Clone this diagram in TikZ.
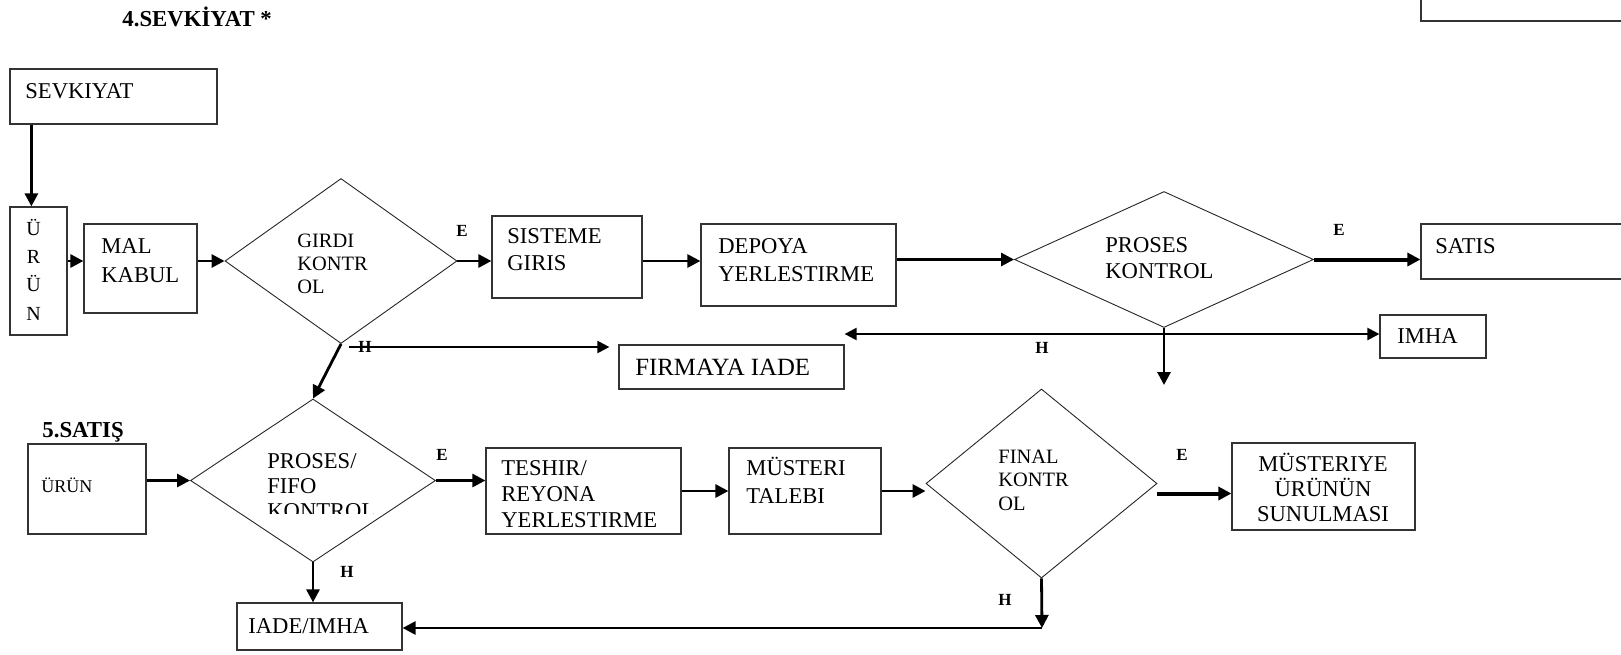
\documentclass[tikz,border=0pt]{standalone}
\usepackage{fontspec}
\setmainfont{Liberation Serif}
\usetikzlibrary{shapes.geometric,arrows.meta}

\newcommand\boxfont{\fontsize{11.3}{13.5}\selectfont}
\newcommand\dmdfont{\fontsize{10.2}{11.6}\selectfont}
\newcommand\lblfont{\fontsize{8.5}{10}\selectfont\bfseries}
\newcommand\headfont{\fontsize{11.4}{13}\selectfont\bfseries}
\newcommand\stackl[1]{\begin{tabular}[t]{@{}l@{}}#1\end{tabular}}
\newcommand\stackc[1]{\begin{tabular}[t]{@{}c@{}}#1\end{tabular}}

\begin{document}
\begin{tikzpicture}[x=0.5pt,y=-0.5pt,
  box/.style={draw=black!80, line width=0.6pt, rectangle, inner sep=0pt},
  dmd/.style={draw=black!85, line width=0.45pt, diamond, inner sep=0pt},
  txt/.style={inner sep=0pt, anchor=base west, font=\boxfont},
  dtxt/.style={inner sep=0pt, anchor=base west, font=\dmdfont},
  lbl/.style={inner sep=0pt, anchor=base, font=\lblfont},
  head/.style={inner sep=0pt, anchor=base west, font=\headfont},
  arr/.style={line width=1.4pt, -{Triangle[length=6.5pt,width=6.5pt]}},
  arrthick/.style={line width=2pt, -{Triangle[length=6.5pt,width=6.5pt]}},
  arrthin/.style={line width=1pt, -{Triangle[length=6pt,width=6pt]}},
  arrboth/.style={line width=1.1pt, {Triangle[length=6pt,width=6pt]}-{Triangle[length=6pt,width=6pt]}}
]
\useasboundingbox (0,0) rectangle (1621,654);
\clip (0,0) rectangle (1621,654);

% ---------- section headings ----------
\node[head] (h4) at (122,26) {4.SEVKİYAT *};
\node[head] (h5) at (42,437) {5.SATIŞ};

% ---------- upper flow: shipment ----------
\node[box, minimum width=103.5pt, minimum height=27.5pt] (sev) at (113.5,96.5) {};
\node[txt] (sevt) at (25,98) {SEVKIYAT};

\node[box, minimum width=28.5pt, minimum height=64pt] (urun) at (38.5,271) {};
\node[inner sep=0pt, anchor=base, font=\fontsize{10}{14.2}\selectfont] (urunt) at (33.5,235) {\stackc{Ü\\R\\Ü\\N}};

\node[box, minimum width=56.5pt, minimum height=44.5pt] (mal) at (140.5,268.5) {};
\node[txt, font=\fontsize{11.3}{14.5}\selectfont] (malt) at (101,253) {\stackl{MAL\\KABUL}};

\node[dmd, minimum width=116pt, minimum height=82.5pt] (gk) at (341,261) {};
\node[dtxt] (gkt) at (297,247) {\stackl{GIRDI\\KONTR\\OL}};

\node[box, minimum width=75pt, minimum height=41pt] (sis) at (567,257) {};
\node[txt] (sist) at (507,243) {\stackl{SISTEME\\GIRIS}};

\node[box, minimum width=97.5pt, minimum height=41pt] (dep) at (798.5,265) {};
\node[txt, font=\fontsize{11.3}{14}\selectfont] (dept) at (718,253) {\stackl{DEPOYA\\YERLESTIRME}};

\node[dmd, minimum width=149.5pt, minimum height=68pt] (pk) at (1164,259.5) {};
\node[txt, font=\fontsize{11.3}{13}\selectfont] (pkt) at (1105,252) {\stackl{PROSES\\KONTROL}};

\node[box, minimum width=120pt, minimum height=27.5pt] (satis) at (1541,251.5) {};
\node[txt] (satist) at (1435,253) {SATIS};

\node[box, minimum width=120pt, minimum height=25pt] (topbox) at (1541,-4) {};

\node[box, minimum width=53pt, minimum height=21.5pt] (imha) at (1433,336.5) {};
\node[txt] (imhat) at (1397,343) {IMHA};

\node[box, minimum width=112.5pt, minimum height=22pt] (firma) at (731.5,367) {};
\node[txt, font=\fontsize{12.4}{14}\selectfont] (firmat) at (635,375) {FIRMAYA IADE};

% ---------- lower flow: sales ----------
\node[box, minimum width=59pt, minimum height=45pt] (urun2) at (87,489) {};
\node[txt, font=\fontsize{9}{11}\selectfont] (urun2t) at (41,492) {ÜRÜN};

\node[dmd, minimum width=122.5pt, minimum height=81.5pt] (pf) at (313,480.5) {};
\node[txt, font=\fontsize{11.3}{12.5}\selectfont] (pft) at (267,468) {\stackl{PROSES/\\FIFO}};
\begin{scope}
  \clip (200,490) rectangle (430,513);
  \node[txt] (pft2) at (267,518) {KONTROL};
\end{scope}

\node[box, minimum width=97.5pt, minimum height=43pt] (tesh) at (583.5,491) {};
\node[txt, font=\fontsize{11.3}{13}\selectfont] (tesht) at (501,475) {\stackl{TESHIR/\\REYONA\\YERLESTIRME}};

\node[box, minimum width=76pt, minimum height=43pt] (must) at (805,491) {};
\node[txt, font=\fontsize{11.3}{14}\selectfont] (mustt) at (746,475) {\stackl{MÜSTERI\\TALEBI}};

\node[dmd, minimum width=115.5pt, minimum height=94.5pt] (fin) at (1041.5,483.5) {};
\node[dtxt, font=\fontsize{10.2}{11.75}\selectfont] (fint) at (998,463) {\stackl{FINAL\\KONTR\\OL}};

\node[box, minimum width=91.5pt, minimum height=43.5pt] (mus2) at (1323.5,486.5) {};
\node[inner sep=0pt, anchor=base, font=\fontsize{11.3}{12.5}\selectfont] (mus2t) at (1323,471) {\stackc{MÜSTERIYE\\ÜRÜNÜN\\SUNULMASI}};

\node[box, minimum width=82.5pt, minimum height=23.5pt] (iade) at (319.5,626.5) {};
\node[txt] (iadet) at (248,633) {IADE/IMHA};

% ---------- yes / no labels ----------
\node[lbl] (e1) at (462,236) {E};
\node[lbl] (n1) at (365,352) {H};
\node[lbl] (e2) at (1339,235) {E};
\node[lbl] (n2) at (1042,353) {H};
\node[lbl] (e3) at (442,460) {E};
\node[lbl] (n3) at (347,577) {H};
\node[lbl] (e4) at (1182,460) {E};
\node[lbl] (n4) at (1005,605) {H};

% ---------- connectors: upper flow ----------
\draw[arr] ([xshift=11pt]sev.south west) -- ([xshift=11pt]urun.north west);
\draw[arr] (urun.east |- gk.west) -- (mal.west |- gk.west);
\draw[arr] (mal.east |- gk.west) -- (gk.west);
\draw[arr] (gk.east) -- (sis.west |- gk.east);
\draw[arr] (sis.east |- gk.east) -- (dep.west |- gk.east);
\draw[arr] (dep.east |- pk.west) -- (pk.west);
\draw[arrthick] (pk.east) -- (satis.west |- pk.east);
\draw[arr] (gk.south) -- (pf.north);
\coordinate (gh) at (349,347);
\draw[arrthin] (gh) -- ([xshift=-4.5pt]gh -| firma.west);
\coordinate (pj) at (1164,334);
\coordinate (pd) at (1164,385);
\draw[arr] (pk.south) -- (pd);
\draw[arrboth] (pj -| firma.east) -- (pj -| imha.west);

% ---------- connectors: lower flow ----------
\draw[arr] (urun2.east |- pf.west) -- (pf.west);
\draw[arr] (pf.east) -- (tesh.west |- pf.east);
\draw[arr] (tesh.east) -- (must.west);
\draw[arr] (must.east) -- (must.east -| fin.west);
\draw[arrthick] ([yshift=-5pt]fin.east) -- ([yshift=-5pt]fin.east -| mus2.west);
\draw[arr] (pf.south) -- (pf.south |- iade.north);
\coordinate (fc) at (1042,628);
\draw[arr] (fin.south) -- (fc);
\draw[arr] (fc) -- (fc -| iade.east);
\end{tikzpicture}
\end{document}
